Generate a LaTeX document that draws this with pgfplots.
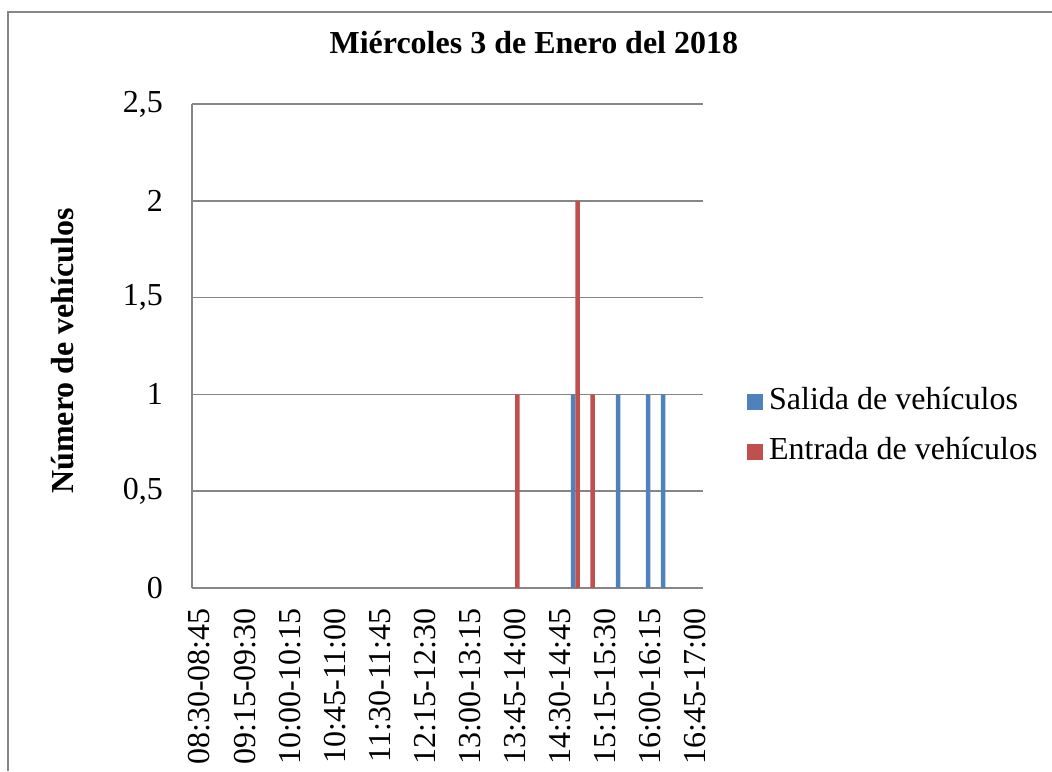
\documentclass[border=0pt]{standalone}
\usepackage{pgfplots}
\pgfplotsset{compat=1.18}
\usepackage{fontspec}
\setmainfont{Liberation Serif}
\definecolor{exblue}{HTML}{4F81BD}
\definecolor{exred}{HTML}{C0504D}
\definecolor{exgrid}{HTML}{868686}
\newcommand{\bigfont}{\fontsize{32}{38}\selectfont}
\begin{document}
\begin{tikzpicture}
\path[use as bounding box] (0pt,0pt) rectangle (1052pt,771pt);
\fill[white] (0pt,0pt) rectangle (1052pt,771pt);
\draw[exgrid, line width=1.2pt] (8pt,0pt) -- (8pt,759pt) -- (1052pt,759pt);
\begin{axis}[
  at={(192pt,183pt)}, anchor=south west,
  scale only axis, width=511pt, height=484pt,
  font=\bigfont,
  ymin=0, ymax=2.5, ytick={0,0.5,1,1.5,2,2.5},
  yticklabels={{\bigfont 0},{\bigfont 0,5},{\bigfont 1},{\bigfont 1,5},{\bigfont 2},{\bigfont 2,5}},
  xmin=-0.5, xmax=33.5,
  xtick={0,3,...,33},
  xticklabels={08:30-08:45,09:15-09:30,10:00-10:15,10:45-11:00,11:30-11:45,12:15-12:30,13:00-13:15,13:45-14:00,14:30-14:45,15:15-15:30,16:00-16:15,16:45-17:00},
  axis lines=left, axis line style={-, exgrid, line width=1.5pt},
  ymajorgrids, grid style={exgrid, line width=1.5pt},
  major tick length=0pt,
  tick label style={font=\bigfont},
  yticklabel style={anchor=east, inner sep=0pt, xshift=-29pt},
  xticklabel style={yshift=-20pt, rotate=90, anchor=east, inner sep=0pt},
  title={\bfseries Miércoles 3 de Enero del 2018},
  title style={at={(axis description cs:0.669,1)}, anchor=base, inner sep=0pt, yshift=44pt},
  ylabel={\bfseries Número de vehículos},
  ylabel style={at={(axis description cs:-0.254,0.49)}, anchor=center, inner sep=0pt},
  legend cell align=left,
  legend style={at={(axis description cs:1.086,0.333)}, anchor=west, draw=none, fill=none,
    inner sep=0pt, row sep=21pt, column sep=6pt,
    nodes={inner sep=0pt, text height=22pt, text depth=7pt}},
  legend image code/.code={\fill[#1] (0pt,-8pt) rectangle (16pt,8pt);},
]
\addplot[ybar, bar width=4.5pt, bar shift=-2.25pt, fill=exblue, draw=none]
  coordinates {(25,1) (28,1) (30,1) (31,1)};
\addlegendentry{Salida de vehículos}
\addplot[ybar, bar width=4.5pt, bar shift=2.25pt, fill=exred, draw=none]
  coordinates {(21,1) (25,2) (26,1)};
\addlegendentry{Entrada de vehículos}
\end{axis}
\end{tikzpicture}
\end{document}
